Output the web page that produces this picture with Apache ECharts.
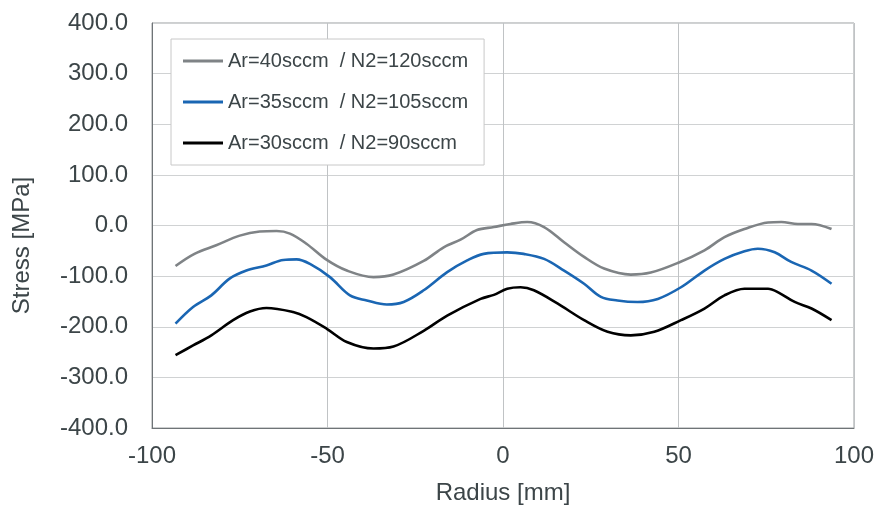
<!DOCTYPE html>
<html><head><meta charset="utf-8">
<script src="https://cdn.jsdelivr.net/npm/echarts@6/dist/echarts.min.js"></script>
<style>html,body{margin:0;padding:0;background:#fff}#c{width:874px;height:506px}</style>
</head><body><div id="c"></div>
<script>
const seriesNames = ['Ar=40sccm  / N2=120sccm', 'Ar=35sccm  / N2=105sccm', 'Ar=30sccm  / N2=90sccm'];
const gray = [[-93.3,-80],[-87.9,-56],[-81.7,-39],[-75,-20],[-69.3,-12],[-64.5,-11],[-60.7,-16],[-56,-36],[-50.2,-68],[-44.5,-89],[-36.9,-102],[-31.2,-97],[-22.6,-70],[-16.9,-43],[-12.1,-28],[-7.4,-9],[-2.6,-3],[2.1,3],[6.9,7],[11.7,-3],[17.4,-33],[23.1,-62],[28.8,-85],[36.4,-97],[42.1,-93],[49.8,-74],[57.4,-49],[63.1,-23],[68.8,-7],[75.5,6],[79.3,7],[84,3],[87.9,3],[93.6,-7]];
const blue = [[-93.3,-194],[-88.3,-161],[-83.1,-138],[-77.9,-105],[-73.1,-89],[-67.4,-79],[-62.6,-68],[-58.8,-67],[-55,-76],[-49.3,-102],[-43.6,-138],[-38.8,-148],[-33.1,-156],[-28.3,-151],[-22.6,-128],[-15.9,-92],[-10.2,-69],[-5.5,-56],[1.2,-53],[5.9,-56],[11.7,-66],[17.4,-89],[23.1,-115],[27.9,-141],[32.6,-148],[38.3,-151],[44.1,-145],[50.7,-122],[57.4,-89],[63.1,-66],[68.8,-51],[72.6,-46],[77.4,-53],[82.1,-72],[87.9,-89],[93.6,-115]];
const black = [[-93.3,-256],[-88.3,-237],[-83.1,-217],[-76.9,-187],[-72.1,-170],[-67.4,-163],[-59.8,-171],[-56,-181],[-50.2,-204],[-44.5,-230],[-36.9,-243],[-31.2,-239],[-22.6,-208],[-15.9,-178],[-6.4,-145],[-2.6,-137],[1.2,-125],[5,-122],[8.8,-128],[15.5,-154],[23.1,-187],[29.8,-210],[36.4,-217],[43.1,-210],[50.7,-187],[57.4,-164],[63.1,-138],[68.8,-125],[75.5,-125],[78.4,-132],[83.1,-151],[87.9,-164],[93.6,-187]];
const colors = ['#7f8386', '#1a66b3', '#000000'];
const xTicks = {min:-100, max:100, interval:50};
const yTicks = {min:-400, max:400, interval:100};

const font = 'Liberation Sans, Arial, sans-serif';
const txt = '#3c4548';
const chart = echarts.init(document.getElementById('c'), null, {renderer:'canvas'});
const datasets = [gray, blue, black];
chart.setOption({
  animation:false,
  backgroundColor:'#fff',
  grid:{left:152,right:20,top:23,bottom:78,show:true,borderColor:'#9a9ea0',borderWidth:1,containLabel:false,outerBoundsMode:'none'},
  legend:{
    orient:'vertical', left:171, top:39,
    padding:[12,16,12,12], itemGap:21,
    borderColor:'#c8c8c8', borderWidth:1, backgroundColor:'#fff',
    icon:'rect', itemWidth:40, itemHeight:3,
    textStyle:{fontFamily:font,fontSize:20,color:txt},
    data:seriesNames
  },
  xAxis:{
    type:'value', min:xTicks.min, max:xTicks.max, interval:xTicks.interval,
    name:'Radius [mm]', nameLocation:'middle', nameGap:53,
    nameTextStyle:{fontFamily:font,fontSize:24,color:txt},
    axisLine:{show:true,onZero:false,lineStyle:{color:'#6f7477'}},
    axisTick:{show:false},
    axisLabel:{fontFamily:font,fontSize:24,color:txt,margin:16},
    splitLine:{show:true,lineStyle:{color:'#c0c3c5',width:1}}
  },
  yAxis:{
    type:'value', min:yTicks.min, max:yTicks.max, interval:yTicks.interval,
    name:'Stress [MPa]', nameLocation:'middle', nameGap:118, nameRotate:90,
    nameTextStyle:{fontFamily:font,fontSize:24,color:txt,padding:[0,40,0,0]},
    axisLine:{show:true,onZero:false,lineStyle:{color:'#6f7477'}},
    axisTick:{show:false},
    axisLabel:{fontFamily:font,fontSize:24,color:txt,margin:24,formatter:v=>v.toFixed(1)},
    splitLine:{show:true,lineStyle:{color:'#d0d2d3',width:1}}
  },
  series: datasets.map((d,i)=>({
    name:seriesNames[i], type:'line', data:d, smooth:0.35, showSymbol:false,
    lineStyle:{color:colors[i],width:2.6}, itemStyle:{color:colors[i]}
  }))
});
</script></body></html>
